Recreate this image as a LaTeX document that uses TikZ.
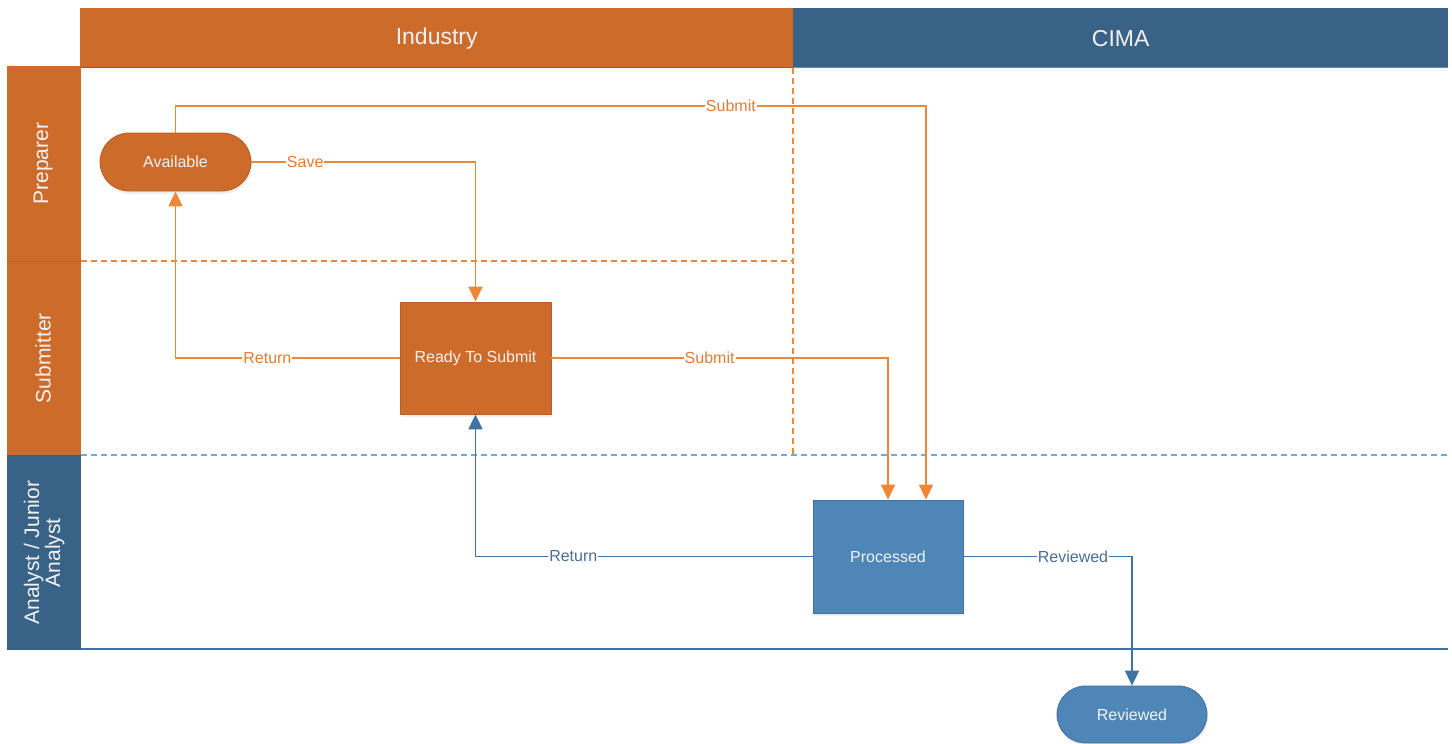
\documentclass[tikz,border=0pt]{standalone}
\usepackage{fontspec}
\setmainfont{Liberation Sans}
\usetikzlibrary{arrows.meta,shadows}
\definecolor{orgnode}{HTML}{CD6B2B}
\definecolor{orgborder}{HTML}{B95E24}
\definecolor{orgline}{HTML}{F08737}
\definecolor{orgtext}{HTML}{E47B35}
\definecolor{bluehead}{HTML}{386387}
\definecolor{bluenode}{HTML}{4E86B8}
\definecolor{blueborder}{HTML}{3F70A0}
\definecolor{blueline}{HTML}{4272A3}
\definecolor{bluedash}{HTML}{6BAAE6}
\definecolor{bluetext}{HTML}{4A6E95}
\definecolor{headtext}{HTML}{F2F2F2}
\tikzset{
  header/.style={fill=#1, draw=none, inner sep=0pt, text=headtext, font=\fontsize{23}{26}\selectfont},
  lanelabel/.style={fill=#1, draw=none, inner sep=0pt, text=headtext, font=\fontsize{21}{23}\selectfont, align=center},
  procbox/.style={draw=#1border, fill=#1node, line width=0.8pt, text=headtext, inner sep=0pt,
     font=\fontsize{16}{18}\selectfont, drop shadow={opacity=0.12, shadow xshift=1pt, shadow yshift=-3pt}},
  oline/.style={draw=orgline, line width=1.8pt, -{Triangle[width=14pt,length=15pt]}},
  bline/.style={draw=blueline, line width=1.8pt, -{Triangle[width=14pt,length=15pt]}},
  olabel/.style={fill=white, inner sep=1pt, text=orgtext, font=\fontsize{16}{18}\selectfont},
  blabel/.style={fill=white, inner sep=1pt, text=bluetext, font=\fontsize{16}{18}\selectfont},
  sepline/.style={draw=#1, dash pattern=on 6pt off 4pt, line width=1.6pt},
}
\begin{document}
\begin{tikzpicture}[x=1pt,y=-1pt]
\useasboundingbox (0,0) rectangle (1452,744);
\fill[white] (0,0) rectangle (1452,744);
% headers
\node[header=orgnode, minimum width=713pt, minimum height=60pt, anchor=north west] (industry) at (80,8) {Industry};
\node[header=bluehead, minimum width=655pt, minimum height=60pt, anchor=north west] (cima) at (793,8) {CIMA};
\fill[black, opacity=0.025] (81,68) rectangle (1448,72);
\draw[gray!80!black, line width=1pt] (81,67.5) -- (793,67.5);
\draw[blueborder!80!white, line width=1pt] (793,67.5) -- (1448,67.5);
% lane labels
\node[lanelabel=orgnode, minimum width=74pt, minimum height=195pt, anchor=north west] (prepbox) at (7,66) {};
\node[rotate=90, text=headtext, font=\fontsize{21}{23}\selectfont] (preparer) at ([xshift=-1pt]prepbox.center) {Preparer};
\node[lanelabel=orgnode, minimum width=74pt, minimum height=194pt, anchor=north west] (subbox) at (7,261) {};
\node[rotate=90, text=headtext, font=\fontsize{21}{23}\selectfont] (submitter) at ([xshift=-1pt]subbox.center) {Submitter};
\node[lanelabel=bluehead, minimum width=74pt, minimum height=195pt, anchor=north west] (anbox) at (7,455) {};
\node[rotate=90, text=headtext, font=\fontsize{21}{21}\selectfont, align=center] (analyst) at (anbox.center) {Analyst / Junior\\Analyst};
\draw[orgborder, line width=1pt] (7,261) -- (81,261);
% lane separators
\draw[sepline=orgline] (81,261) -- (793,261);
\draw[sepline=orgline] (793,68) -- (793,455);
\draw[sepline=bluedash] (81,455) -- (1448,455);
\draw[blueline, line width=1.5pt] (81,649) -- (1448,649);
% process nodes
\node[procbox=org, minimum width=151pt, minimum height=58pt, rounded corners=29pt] (avail) at (175.5,162) {Available};
\node[procbox=org, minimum width=151pt, minimum height=112pt] (ready) at (475.5,358) {Ready To Submit};
\node[procbox=blue, minimum width=150pt, minimum height=113pt] (proc) at (888,556.5) {Processed};
\node[procbox=blue, minimum width=150pt, minimum height=57pt, rounded corners=28.5pt] (rev) at (1132,714.5) {Reviewed};
% helper coordinates
\coordinate (ytop) at (0,106);
\coordinate (sub2) at ([xshift=38pt]proc.north);
% connectors
\draw[oline] (avail.east) -- node[olabel,pos=0.24]{Save} (avail.east -| ready.north) -- (ready.north);
\draw[oline] (avail.north) -- (avail.north |- ytop) -- node[olabel,pos=0.74]{Submit} (sub2 |- ytop) -- (sub2);
\draw[oline] (ready.west) -- node[olabel,pos=0.59]{Return} (ready.west -| avail.south) -- (avail.south);
\draw[oline] (ready.east) -- node[olabel,pos=0.47]{Submit} (ready.east -| proc.north) -- (proc.north);
\draw[bline] (proc.west) -- node[blabel,pos=0.71]{Return} (proc.west -| ready.south) -- (ready.south);
\draw[bline] (proc.east) -- node[blabel,pos=0.65]{Reviewed} (proc.east -| rev.north) -- (rev.north);
\end{tikzpicture}
\end{document}
